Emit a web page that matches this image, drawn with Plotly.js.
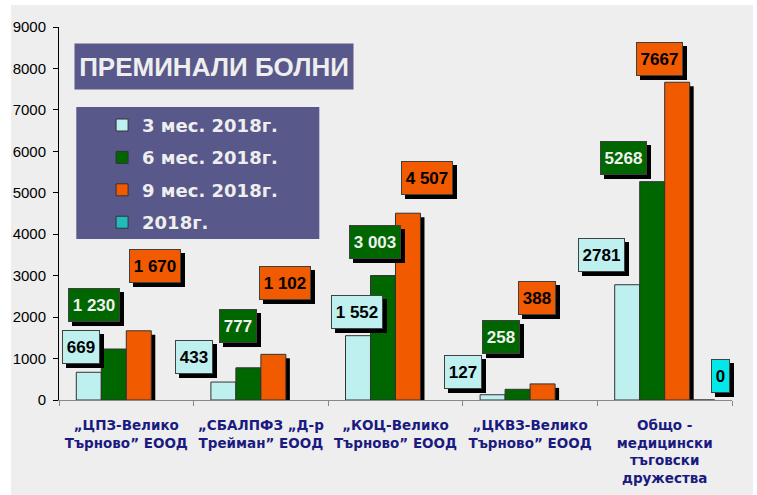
<!DOCTYPE html>
<html><head><meta charset="utf-8">
<script src="https://cdn.plot.ly/plotly-3.0.1.min.js"></script>
<style>
html,body{margin:0;padding:0;background:#fff;}
#chart{position:absolute;left:11px;top:5px;width:742px;height:490px;}
</style>
</head><body><div id="chart"></div>
<script>
// ---- data ----
const categories = ["„ЦПЗ-Велико<br>Търново” ЕООД", "„СБАЛПФЗ „Д-р<br>Трейман” ЕООД", "„КОЦ-Велико<br>Търново” ЕООД", "„ЦКВЗ-Велико<br>Търново” ЕООД", "Общо -<br>медицински<br>тъговски<br>дружества"];
const seriesNames = ["3 мес. 2018г.", "6 мес. 2018г.", "9 мес. 2018г.", "2018г."];
const q3 = [669, 433, 1552, 127, 2781];
const q6 = [1230, 777, 3003, 258, 5268];
const q9 = [1670, 1102, 4507, 388, 7667];
const y2018 = [null, null, null, null, 0];
const labels3 = ["669", "433", "1 552", "127", "2781"];
const labels6 = ["1 230", "777", "3 003", "258", "5268"];
const labels9 = ["1 670", "1 102", "4 507", "388", "7667"];
const labels2018 = [null, null, null, null, "0"];
const chartTitle = "ПРЕМИНАЛИ БОЛНИ";
const yTicks = [0, 1000, 2000, 3000, 4000, 5000, 6000, 7000, 8000, 9000];

// ---- style / layout ----
const colors = ["#bff0f0", "#006600", "#f25a00", "#22bbbb"];
const labelBg = ["#bff0f0", "#006600", "#f25a00", "#00e8e8"];
const labelFg = ["#000000", "#f0f0f0", "#000000", "#000000"];
// label box centres: [offset from category index, y in data units]
const labelPos = [
  [[-0.334, 1278], [-0.495, 1037], [-0.284, 2121], [-0.496, 675], [-0.471, 3496]],
  [[-0.238, 2290], [-0.168, 1784], [-0.150, 3821], [-0.214, 1519], [-0.308, 5834]],
  [[0.215, 3230], [0.181, 2821], [0.236, 5352], [0.054, 2459], [-0.040, 8221]],
  [null, null, null, null, [0.413, 579]]
];
const series = [q3, q6, q9, y2018];
const labels = [labels3, labels6, labels9, labels2018];

const W = 0.1857, START = -0.3715, SH = 0.0297, SHY = 96;
const FONT = "Liberation Sans, Arial, sans-serif";
const WIDEFONT = "DejaVu Sans, Verdana, sans-serif";
const ctx = document.createElement('canvas').getContext('2d');
ctx.font = "700 17px 'Liberation Sans', Arial, sans-serif";
function textW(t) { return Math.ceil(ctx.measureText(t).width) + 1; }

const traces = [];
// shadows
series.forEach((s, i) => {
  traces.push({
    type: 'bar', x: categories, y: s.map(v => (v === null ? null : Math.max(0, v - SHY))),
    width: W, offset: START + i * W + SH,
    marker: {color: '#000000', line: {width: 0}},
    showlegend: false, hoverinfo: 'skip'
  });
});
series.forEach((s, i) => {
  traces.push({
    type: 'bar', name: seriesNames[i], x: categories, y: s,
    width: W, offset: START + i * W,
    marker: {color: colors[i], line: {color: '#333333', width: 1}},
    legendgroup: 'g' + i
  });
});

const annotations = [];
labels.forEach((arr, i) => {
  arr.forEach((t, j) => {
    if (t === null) return;
    const p = labelPos[i][j];
    const w = textW(t);
    const base = {
      x: j + p[0], y: p[1], xref: 'x', yref: 'y', showarrow: false,
      width: w, height: 26, borderpad: 3, borderwidth: 1
    };
    annotations.push(Object.assign({}, base, {
      text: '\u00a0', bgcolor: '#000000', bordercolor: '#000000', xshift: 4, yshift: -4,
      font: {family: FONT, size: 17, weight: 700, color: '#000000'}
    }));
    annotations.push(Object.assign({}, base, {
      text: t, bgcolor: labelBg[i], bordercolor: '#404040',
      font: {family: FONT, size: 17, weight: 700, color: labelFg[i]}
    }));
  });
});
annotations.push({
  xref: 'paper', yref: 'paper', x: 0.2308, y: 0.894, xanchor: 'center', yanchor: 'middle',
  text: chartTitle, showarrow: false, bgcolor: '#58588a', width: 274, height: 41, borderpad: 2,
  font: {family: FONT, size: 26, weight: 700, color: '#eeeeee'}
});

const layout = {
  width: 742, height: 490,
  margin: {l: 48, r: 21, t: 22, b: 95},
  paper_bgcolor: '#eeeeee', plot_bgcolor: '#eeeeee',
  barmode: 'overlay',
  showlegend: true,
  legend: {
    x: 0.064, y: 0.786, xanchor: 'left', yanchor: 'top',
    bgcolor: 'rgba(0,0,0,0)', tracegroupgap: 6, traceorder: 'grouped',
    font: {family: WIDEFONT, size: 18, weight: 700, color: '#eeeeee'}
  },
  xaxis: {
    type: 'category', range: [-0.5, 4.5],
    showline: true, linecolor: '#888888', linewidth: 1,
    ticks: 'outside', tickson: 'boundaries', ticklen: 5, tickcolor: '#888888',
    tickfont: {family: WIDEFONT, size: 13.5, weight: 700, color: '#1a1a80'},
    showgrid: false, zeroline: false, tickangle: 0, ticklabelstandoff: 13
  },
  yaxis: {
    range: [0, 9000], tickvals: yTicks, showline: true, linecolor: '#000000', linewidth: 1,
    ticks: 'outside', ticklen: 5, tickcolor: '#000000',
    tickfont: {family: FONT, size: 15, color: '#000000'},
    showgrid: false, zeroline: false, ticklabelstandoff: 4
  },
  shapes: [{
    type: 'rect', xref: 'paper', yref: 'paper', x0: 0.0257, x1: 0.3868, y0: 0.4316, y1: 0.7855,
    fillcolor: '#58588a', line: {width: 0}, layer: 'below'
  }],
  annotations: annotations
};
Plotly.newPlot('chart', traces, layout, {displayModeBar: false, staticPlot: true});
</script></body></html>
